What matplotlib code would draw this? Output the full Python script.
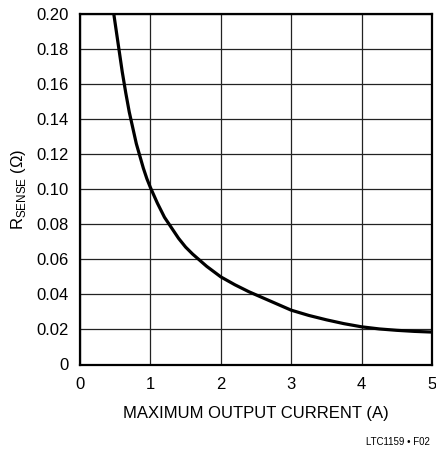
import matplotlib
matplotlib.use("Agg")
import matplotlib.pyplot as plt
from matplotlib import font_manager

# curve (A, ohm)
current = [0.48, 0.52, 0.56, 0.60, 0.65, 0.70, 0.75, 0.80, 0.85, 0.90, 0.95, 1.00,
           1.1, 1.2, 1.3, 1.4, 1.5, 1.6, 1.8, 2.0, 2.2, 2.4, 2.6, 2.8, 3.0,
           3.25, 3.5, 3.75, 4.0, 4.25, 4.5, 4.75, 5.0]
rsense = [0.200, 0.189, 0.178, 0.167, 0.155, 0.144, 0.135, 0.126, 0.119, 0.112, 0.106, 0.101,
          0.092, 0.084, 0.078, 0.072, 0.067, 0.063, 0.056, 0.050, 0.0455, 0.0415, 0.038, 0.0345, 0.031,
          0.028, 0.0255, 0.0233, 0.0215, 0.0203, 0.0195, 0.0189, 0.0185]
xticks = [0, 1, 2, 3, 4, 5]
yticks = [0, 0.02, 0.04, 0.06, 0.08, 0.10, 0.12, 0.14, 0.16, 0.18, 0.20]
ytick_labels = ['0', '0.02', '0.04', '0.06', '0.08', '0.10', '0.12', '0.14', '0.16', '0.18', '0.20']

names = {f.name for f in font_manager.fontManager.ttflist}
fam = 'Liberation Sans Narrow' if 'Liberation Sans Narrow' in names else 'Liberation Sans'
plt.rcParams['font.family'] = [fam, 'DejaVu Sans']
plt.rcParams['mathtext.fontset'] = 'custom'
plt.rcParams['mathtext.rm'] = fam

fig = plt.figure(figsize=(4.36, 4.49), dpi=100)
ax = fig.add_axes([80 / 436, 1 - 364.5 / 449, 352 / 436, 350.5 / 449])
ax.plot(current, rsense, color='black', lw=2.3, solid_joinstyle='round')
ax.set_xlim(0, 5)
ax.set_ylim(0, 0.2)
ax.set_xticks(xticks)
ax.set_yticks(yticks)
ax.set_yticklabels(ytick_labels)
ax.tick_params(length=0, labelsize=12, pad=8)
ax.tick_params(axis='x', pad=9)
ax.grid(True, color='#222222', lw=0.9)
for s in ax.spines.values():
    s.set_linewidth(1.6)
ax.set_xlabel('MAXIMUM OUTPUT CURRENT (A)', fontsize=12, labelpad=10)
ax.set_ylabel(r'R$_{\mathrm{SENSE}}$ ($\Omega$)', fontsize=12, labelpad=6)
fig.text(430 / 436, 1 - 442 / 449, 'LTC1159 • F02', fontsize=7, ha='right', va='center')
fig.savefig('out.png', dpi=100)
